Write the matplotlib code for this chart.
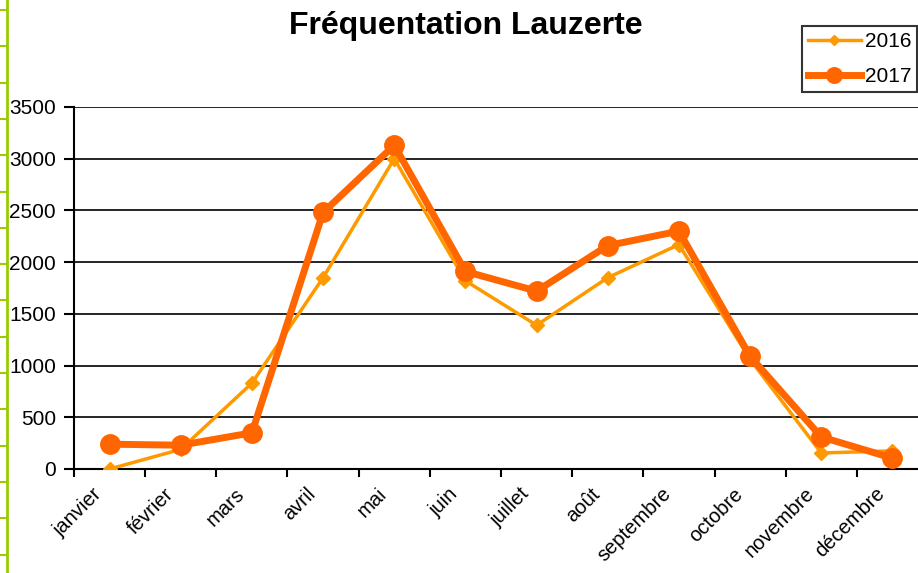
import numpy as np
import matplotlib.pyplot as plt
import matplotlib.transforms as mtransforms
from matplotlib.lines import Line2D

plt.rcParams['font.family'] = ['Liberation Sans', 'DejaVu Sans']

mois = ['janvier', 'février', 'mars', 'avril', 'mai', 'juin', 'juillet',
        'août', 'septembre', 'octobre', 'novembre', 'décembre']
freq_2016 = [0, 190, 830, 1850, 3000, 1820, 1390, 1850, 2170, 1060, 155, 175]
freq_2017 = [240, 230, 350, 2480, 3130, 1910, 1720, 2160, 2300, 1090, 310, 105]

fig = plt.figure(figsize=(9.18, 5.73), dpi=100)
ax = fig.add_axes([74/918, 104/573, 854/918, 362/573])

x = np.arange(len(mois))
ax.plot(x, freq_2016, color='#FF9900', lw=2.5, marker='D', ms=7,
        label='2016', zorder=3)
ax.plot(x, freq_2017, color='#FF6600', lw=5, marker='o', ms=14,
        label='2017', zorder=4)

ax.set_xlim(-0.5, len(mois) - 0.5)
ax.set_ylim(0, 3500)
ax.set_yticks(range(0, 3501, 500))
ax.yaxis.grid(True, color='black', lw=1.2)
ax.set_axisbelow(True)

# ticks between categories, labels at category centres
ax.set_xticks(np.arange(-0.5, len(mois), 1))
ax.set_xticklabels([])
ax.set_xticks(x, minor=True)
ax.set_xticklabels(mois, minor=True, rotation=45, ha='right',
                   rotation_mode='anchor', fontsize=14.5)
ax.tick_params(axis='x', which='minor', length=0, pad=11)
ax.tick_params(axis='x', which='major', length=6, width=1.5, direction='out')
ax.tick_params(axis='y', length=7, width=1.5, labelsize=15, pad=6)

shift = mtransforms.ScaledTranslation(-17/100, 0, fig.dpi_scale_trans)
for lab in ax.get_xticklabels(minor=True):
    lab.set_transform(lab.get_transform() + shift)

for side in ['top', 'right']:
    ax.spines[side].set_visible(False)
ax.spines['left'].set_linewidth(1.5)
ax.spines['bottom'].set_linewidth(1.5)

fig.text(466/918, 1 - 26/573, 'Fréquentation Lauzerte', ha='center',
         va='center', fontsize=23, fontweight='bold')

leg = fig.legend(loc='upper left', bbox_to_anchor=(798/918, 1 - 22/573),
                 fontsize=15, frameon=True, fancybox=False,
                 edgecolor='black', borderpad=0.3, handlelength=2.5,
                 handletextpad=0.2, borderaxespad=0.2, labelspacing=0.75,
                 markerscale=0.8)
leg.get_frame().set_linewidth(1.5)

# green border on the left edge of the sheet
fig.add_artist(Line2D([7/918, 7/918], [0, 1], color='#99CC00', lw=2,
                      transform=fig.transFigure))
for yy in np.arange(10, 573, 36.3):
    fig.add_artist(Line2D([0, 7/918], [1 - yy/573, 1 - yy/573],
                          color='#99CC00', lw=1.5, transform=fig.transFigure))

fig.savefig('out.png', dpi=100)
